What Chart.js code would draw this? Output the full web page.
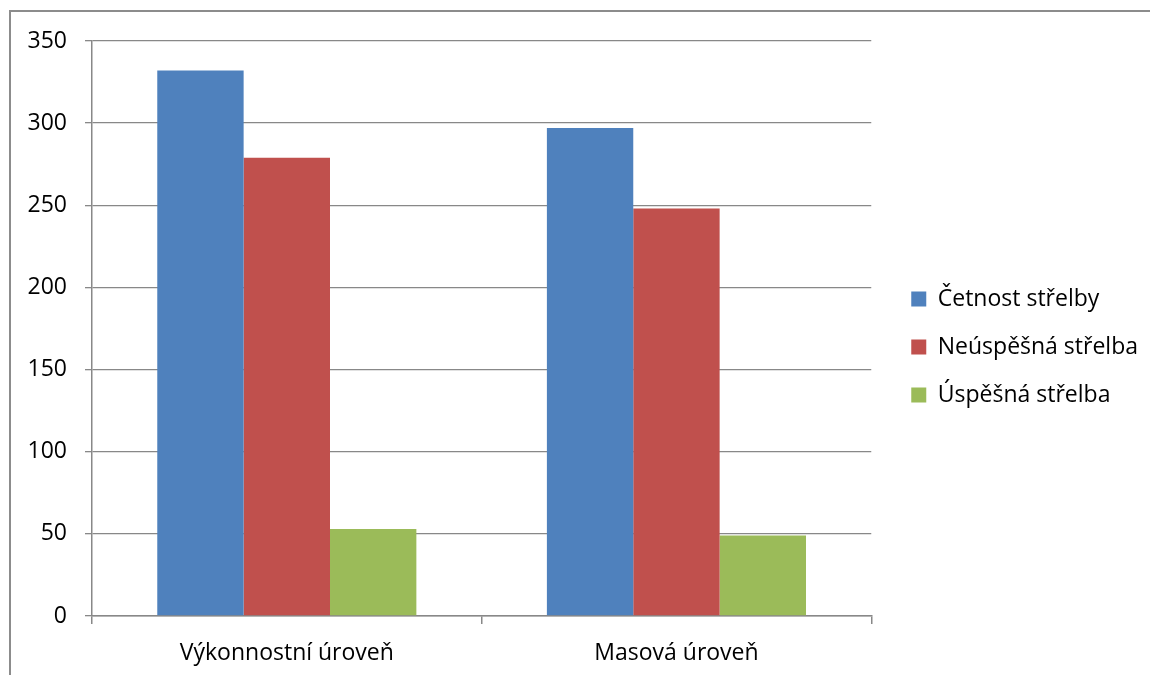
<!DOCTYPE html>
<html>
<head>
<meta charset="utf-8">
<script src="https://cdn.jsdelivr.net/npm/chart.js@4.4.1/dist/chart.umd.min.js"></script>
<style>
  html, body { margin: 0; padding: 0; background: #fff; overflow: hidden; }
  #frame { position: absolute; left: 9px; top: 10px; width: 1300px; height: 800px;
           border-left: 2px solid #8c8c8c; border-top: 2px solid #8c8c8c; }
  #chart { position: absolute; left: 0; top: 0; }
</style>
</head>
<body>
<div id="frame"></div>
<canvas id="chart" width="1150" height="675"></canvas>
<script>
// Data
const categories = ['Výkonnostní úroveň', 'Masová úroveň'];
const seriesNames = ['Četnost střelby', 'Neúspěšná střelba', 'Úspěšná střelba'];
const cetnost = [332, 297];
const neuspesna = [279, 248];
const uspesna = [53, 49];
const yTicks = [0, 50, 100, 150, 200, 250, 300, 350];

const colors = ['#4F81BD', '#C0504D', '#9BBB59'];
const FONT = '"Open Sans", sans-serif';

// nudge the legend a bit right of the plot and up
const legendShift = {
    id: 'legendShift',
    afterLayout(chart) {
        const lg = chart.legend;
        if (!lg) return;
        lg.left += 15;
        lg.right += 15;
        lg.top -= 11;
        lg.bottom -= 11;
    }
};

function initChart() {
    const ctx = document.getElementById('chart').getContext('2d');
    new Chart(ctx, {
        type: 'bar',
        data: {
            labels: categories,
            datasets: [cetnost, neuspesna, uspesna].map((d, i) => ({
                label: seriesNames[i],
                data: d,
                backgroundColor: colors[i],
                borderWidth: 0,
                categoryPercentage: 0.665,
                barPercentage: 1
            }))
        },
        options: {
            responsive: false,
            animation: false,
            devicePixelRatio: 1,
            layout: { padding: { top: 41, right: 17, bottom: 0, left: 0 } },
            plugins: {
                tooltip: { enabled: false },
                legend: {
                    position: 'right',
                    labels: {
                        boxWidth: 15,
                        boxHeight: 15,
                        padding: 25,
                        color: '#000',
                        font: { family: FONT, size: 23 }
                    }
                }
            },
            scales: {
                x: {
                    offset: true,
                    grid: { offset: true, drawOnChartArea: false, drawTicks: true, tickLength: 8, color: '#888', lineWidth: 1.5 },
                    border: { display: true, color: '#888', width: 1.5 },
                    ticks: { color: '#000', padding: 16, font: { family: FONT, size: 23 } },
                    afterFit(scale) { scale.height = 59; }
                },
                y: {
                    min: 0,
                    max: yTicks[yTicks.length - 1],
                    afterBuildTicks(scale) { scale.ticks = yTicks.map(v => ({ value: v })); },
                    grid: { color: '#888', lineWidth: 1.3, tickLength: 7 },
                    border: { display: true, color: '#888', width: 1.5 },
                    ticks: { color: '#000', padding: 18, font: { family: FONT, size: 23 } },
                    afterFit(scale) { scale.width = 92; }
                }
            }
        },
        plugins: [legendShift]
    });
}

window.onload = initChart;
</script>
</body>
</html>
